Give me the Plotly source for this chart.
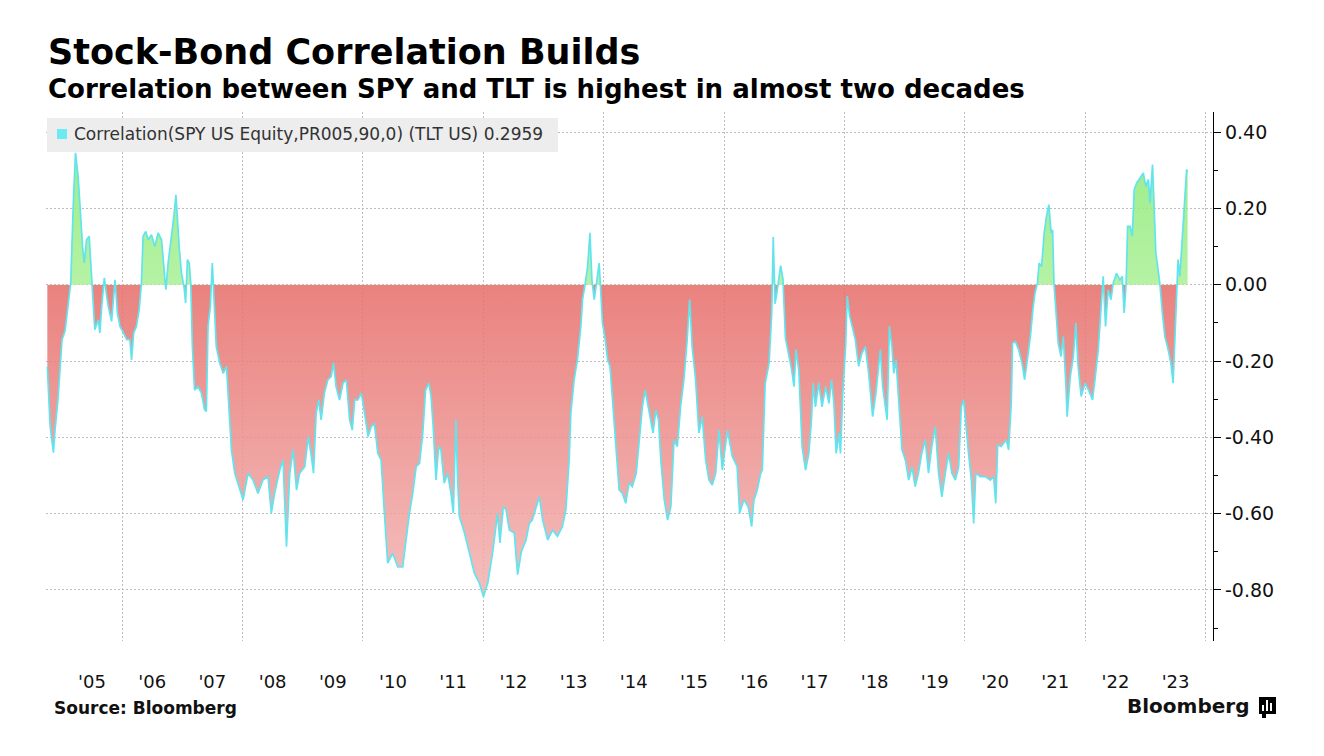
import plotly.graph_objects as go

# ---------------- data ----------------
dates = [
    "2004-10-04", "2004-10-21", "2004-11-10", "2004-11-20", "2004-12-08", "2005-01-01", "2005-01-20",
    "2005-02-09", "2005-02-23", "2005-03-10", "2005-03-24", "2005-04-09", "2005-04-19", "2005-05-06",
    "2005-05-16", "2005-05-30", "2005-06-15", "2005-06-30", "2005-07-09", "2005-07-19", "2005-08-09",
    "2005-08-19", "2005-08-30", "2005-09-15", "2005-09-29", "2005-10-09", "2005-10-29", "2005-11-09",
    "2005-11-19", "2005-12-03", "2005-12-19", "2006-01-09", "2006-01-29", "2006-02-17", "2006-02-27",
    "2006-03-12", "2006-03-29", "2006-04-14", "2006-04-28", "2006-05-08", "2006-05-24", "2006-06-08",
    "2006-06-28", "2006-07-18", "2006-08-07", "2006-08-28", "2006-09-11", "2006-09-23", "2006-10-07",
    "2006-10-28", "2006-11-11", "2006-11-23", "2006-12-01", "2006-12-13", "2006-12-27", "2007-01-11",
    "2007-01-21", "2007-02-01", "2007-02-12", "2007-02-21", "2007-03-03", "2007-03-16", "2007-04-06",
    "2007-04-27", "2007-05-16", "2007-05-27", "2007-06-06", "2007-06-20", "2007-07-02", "2007-07-10",
    "2007-07-26", "2007-08-16", "2007-09-06", "2007-09-26", "2007-10-11", "2007-10-26", "2007-11-15",
    "2007-12-15", "2008-01-05", "2008-02-04", "2008-03-05", "2008-04-04", "2008-05-04", "2008-06-04",
    "2008-06-24", "2008-07-14", "2008-08-03", "2008-08-14", "2008-09-03", "2008-09-24", "2008-10-14",
    "2008-11-03", "2008-11-24", "2008-12-13", "2009-01-13", "2009-02-03", "2009-02-22", "2009-03-07",
    "2009-03-23", "2009-04-08", "2009-04-22", "2009-05-12", "2009-06-02", "2009-06-22", "2009-07-06",
    "2009-07-22", "2009-08-12", "2009-09-02", "2009-09-22", "2009-10-12", "2009-10-28", "2009-11-12",
    "2009-12-01", "2009-12-22", "2010-01-11", "2010-02-01", "2010-02-20", "2010-03-11", "2010-04-01",
    "2010-04-21", "2010-05-11", "2010-05-31", "2010-06-30", "2010-07-31", "2010-08-30", "2010-09-20",
    "2010-10-10", "2010-10-30", "2010-11-20", "2010-12-10", "2010-12-30", "2011-01-16", "2011-02-05",
    "2011-02-18", "2011-03-03", "2011-03-20", "2011-04-05", "2011-04-19", "2011-05-09", "2011-05-29",
    "2011-06-19", "2011-07-03", "2011-07-19", "2011-07-29", "2011-08-09", "2011-09-09", "2011-10-08",
    "2011-11-08", "2011-12-08", "2012-01-02", "2012-01-28", "2012-02-26", "2012-03-28", "2012-04-11",
    "2012-05-01", "2012-05-18", "2012-06-07", "2012-07-07", "2012-07-27", "2012-08-19", "2012-09-16",
    "2012-10-06", "2012-10-24", "2012-12-06", "2012-12-26", "2013-01-26", "2013-02-24", "2013-03-26",
    "2013-04-25", "2013-05-16", "2013-06-05", "2013-06-15", "2013-07-05", "2013-07-25", "2013-08-15",
    "2013-08-25", "2013-09-11", "2013-09-25", "2013-10-09", "2013-10-21", "2013-11-04", "2013-11-18",
    "2013-12-04", "2013-12-14", "2013-12-24", "2014-01-10", "2014-01-24", "2014-02-08", "2014-02-22",
    "2014-03-14", "2014-04-04", "2014-04-24", "2014-05-14", "2014-06-03", "2014-06-23", "2014-07-17",
    "2014-08-03", "2014-08-23", "2014-09-09", "2014-09-23", "2014-10-13", "2014-10-27", "2014-11-13",
    "2014-11-29", "2014-12-13", "2015-01-03", "2015-01-23", "2015-02-12", "2015-03-03", "2015-03-23",
    "2015-04-12", "2015-05-02", "2015-05-22", "2015-06-06", "2015-06-21", "2015-07-12", "2015-08-01",
    "2015-08-21", "2015-09-11", "2015-10-01", "2015-10-21", "2015-11-11", "2015-12-01", "2015-12-21",
    "2016-01-21", "2016-02-20", "2016-03-20", "2016-04-04", "2016-04-30", "2016-05-26", "2016-06-16",
    "2016-06-30", "2016-07-20", "2016-08-10", "2016-08-20", "2016-09-06", "2016-09-30", "2016-10-16",
    "2016-10-25", "2016-11-05", "2016-11-19", "2016-12-09", "2016-12-23", "2017-01-07", "2017-01-25",
    "2017-02-14", "2017-02-28", "2017-03-12", "2017-03-29", "2017-04-18", "2017-05-09", "2017-05-29",
    "2017-06-14", "2017-06-24", "2017-07-08", "2017-07-28", "2017-08-17", "2017-09-08", "2017-09-28",
    "2017-10-14", "2017-10-28", "2017-11-11", "2017-11-28", "2017-12-07", "2017-12-21", "2018-01-07",
    "2018-01-17", "2018-02-01", "2018-02-16", "2018-03-07", "2018-03-27", "2018-04-16", "2018-05-07",
    "2018-05-27", "2018-06-20", "2018-07-10", "2018-08-06", "2018-08-20", "2018-09-16", "2018-09-30",
    "2018-10-15", "2018-10-26", "2018-11-09", "2018-11-26", "2018-12-15", "2019-01-05", "2019-01-25",
    "2019-02-14", "2019-03-05", "2019-03-25", "2019-04-14", "2019-05-05", "2019-05-25", "2019-06-14",
    "2019-07-05", "2019-07-25", "2019-08-14", "2019-09-04", "2019-09-24", "2019-10-14", "2019-11-04",
    "2019-11-24", "2019-12-10", "2019-12-24", "2020-01-07", "2020-01-23", "2020-02-09", "2020-02-23",
    "2020-03-07", "2020-04-03", "2020-05-03", "2020-06-03", "2020-06-23", "2020-07-06", "2020-07-18",
    "2020-08-08", "2020-09-08", "2020-09-22", "2020-10-08", "2020-10-16", "2020-11-02", "2020-11-22",
    "2020-12-12", "2020-12-28", "2021-01-11", "2021-02-01", "2021-02-16", "2021-03-01", "2021-03-16",
    "2021-03-26", "2021-04-10", "2021-04-26", "2021-05-10", "2021-05-24", "2021-06-07", "2021-06-16",
    "2021-06-24", "2021-07-07", "2021-07-20", "2021-08-06", "2021-08-20", "2021-09-04", "2021-09-12",
    "2021-10-01", "2021-10-20", "2021-11-04", "2021-11-16", "2021-12-06", "2021-12-30", "2022-01-20",
    "2022-02-13", "2022-02-28", "2022-03-20", "2022-04-05", "2022-04-19", "2022-05-03", "2022-05-19",
    "2022-06-05", "2022-06-19", "2022-07-09", "2022-07-29", "2022-08-12", "2022-08-24", "2022-09-05",
    "2022-09-14", "2022-09-29", "2022-10-12", "2022-10-24", "2022-11-08", "2022-11-29", "2022-12-18",
    "2023-01-02", "2023-01-18", "2023-01-28", "2023-02-12", "2023-02-22", "2023-03-04", "2023-03-18",
    "2023-03-28", "2023-04-11", "2023-04-28", "2023-05-18", "2023-06-03", "2023-06-17", "2023-06-28",
    "2023-07-07", "2023-07-17", "2023-07-28", "2023-08-11", "2023-08-23", "2023-09-07", "2023-09-13",
]

correlation = [
    -0.214, -0.37, -0.44, -0.38, -0.30, -0.145, -0.12,
    -0.04, 0.005, 0.205, 0.346, 0.284, 0.205, 0.10,
    0.057, 0.118, 0.127, 0.03, -0.04, -0.118, -0.092,
    -0.126, -0.057, 0.018, -0.03, -0.057, -0.096, -0.03,
    0.013, -0.074, -0.109, -0.126, -0.144, -0.144, -0.197,
    -0.126, -0.109, -0.066, 0.005, 0.127, 0.14, 0.118,
    0.131, 0.10, 0.136, 0.118, 0.057, -0.013, 0.057,
    0.127, 0.18, 0.236, 0.17, 0.10, 0.03, -0.004,
    -0.048, 0.066, 0.057, 0.005, -0.162, -0.276, -0.267,
    -0.284, -0.328, -0.332, -0.109, -0.057, 0.057, -0.013,
    -0.162, -0.205, -0.232, -0.214, -0.32, -0.433, -0.494,
    -0.538, -0.564, -0.494, -0.512, -0.547, -0.512, -0.503,
    -0.599, -0.547, -0.512, -0.486, -0.46, -0.687, -0.494,
    -0.433, -0.538, -0.494, -0.477, -0.398, -0.45, -0.494,
    -0.337, -0.302, -0.354, -0.284, -0.249, -0.241, -0.205,
    -0.267, -0.302, -0.258, -0.249, -0.354, -0.381, -0.302,
    -0.302, -0.284, -0.337, -0.398, -0.372, -0.363, -0.442,
    -0.46, -0.599, -0.73, -0.704, -0.74, -0.74, -0.669,
    -0.599, -0.547, -0.477, -0.468, -0.389, -0.276, -0.258,
    -0.293, -0.372, -0.512, -0.424, -0.433, -0.52, -0.494,
    -0.547, -0.599, -0.354, -0.512, -0.608, -0.651, -0.704,
    -0.756, -0.782, -0.818, -0.782, -0.704, -0.599, -0.677,
    -0.582, -0.59, -0.643, -0.651, -0.76, -0.70, -0.67,
    -0.626, -0.617, -0.556, -0.617, -0.669, -0.643, -0.66,
    -0.634, -0.59, -0.46, -0.337, -0.249, -0.197, -0.109,
    -0.039, 0.005, 0.048, 0.136, 0.013, -0.039, 0.005,
    0.057, -0.022, -0.10, -0.144, -0.197, -0.214, -0.302,
    -0.407, -0.538, -0.547, -0.573, -0.52, -0.529, -0.494,
    -0.407, -0.32, -0.276, -0.311, -0.354, -0.389, -0.328,
    -0.354, -0.46, -0.564, -0.617, -0.582, -0.407, -0.424,
    -0.32, -0.249, -0.144, -0.039, -0.162, -0.249, -0.389,
    -0.346, -0.46, -0.512, -0.525, -0.494, -0.381, -0.486,
    -0.381, -0.45, -0.477, -0.599, -0.564, -0.582, -0.634,
    -0.564, -0.538, -0.494, -0.486, -0.26, -0.205, -0.074,
    0.125, -0.05, -0.013, 0.05, 0.015, -0.14, -0.179,
    -0.223, -0.267, -0.17, -0.223, -0.424, -0.486, -0.442,
    -0.354, -0.258, -0.32, -0.258, -0.32, -0.267, -0.311,
    -0.249, -0.311, -0.442, -0.389, -0.442, -0.284, -0.162,
    -0.03, -0.083, -0.109, -0.144, -0.214, -0.179, -0.162,
    -0.232, -0.346, -0.284, -0.17, -0.267, -0.354, -0.109,
    -0.162, -0.232, -0.197, -0.311, -0.433, -0.46, -0.512,
    -0.477, -0.529, -0.494, -0.442, -0.407, -0.494, -0.424,
    -0.372, -0.494, -0.556, -0.494, -0.442, -0.494, -0.512,
    -0.477, -0.32, -0.302, -0.372, -0.442, -0.512, -0.626,
    -0.494, -0.503, -0.503, -0.512, -0.503, -0.573, -0.42,
    -0.424, -0.407, -0.433, -0.311, -0.153, -0.149, -0.17,
    -0.205, -0.249, -0.205, -0.136, -0.066, -0.022, 0.005,
    0.057, 0.048, 0.136, 0.18, 0.21, 0.136, 0.144,
    0.005, -0.083, -0.153, -0.188, -0.136, -0.258, -0.346,
    -0.241, -0.188, -0.10, -0.205, -0.293, -0.258, -0.276,
    -0.302, -0.249, -0.17, -0.066, 0.022, -0.109, -0.013,
    -0.039, 0.005, 0.03, 0.013, 0.022, -0.074, 0.005,
    0.153, 0.153, 0.127, 0.249, 0.267, 0.28, 0.293,
    0.258, 0.276, 0.214, 0.315, 0.205, 0.083, 0.039,
    0.005, -0.066, -0.136, -0.17, -0.205, -0.258, -0.136,
    0.005, 0.066, 0.022, 0.127, 0.223, 0.302, 0.2959,
]

year_labels = ["'05", "'06", "'07", "'08", "'09", "'10", "'11", "'12", "'13", "'14",
               "'15", "'16", "'17", "'18", "'19", "'20", "'21", "'22", "'23"]
label_dates = ["2005-07-02", "2006-07-02", "2007-07-02", "2008-07-02", "2009-07-02",
               "2010-07-02", "2011-07-02", "2012-07-02", "2013-07-02", "2014-07-02",
               "2015-07-02", "2016-07-02", "2017-07-02", "2018-07-02", "2019-07-02",
               "2020-07-02", "2021-07-02", "2022-07-02", "2023-07-02"]
grid_dates = ["2006-01-01", "2008-01-01", "2010-01-01", "2012-01-01", "2014-01-01",
              "2016-01-01", "2018-01-01", "2020-01-01", "2022-01-01", "2024-01-01"]
y_ticks = [0.4, 0.2, 0.0, -0.2, -0.4, -0.6, -0.8]
y_minor = [0.3, 0.1, -0.1, -0.3, -0.5, -0.7, -0.9]
y_ticktext = [f"{v:.2f}" for v in y_ticks]

legend_text = "Correlation(SPY US Equity,PR005,90,0) (TLT US) 0.2959"

# ---------------- styling ----------------
FONT = "DejaVu Sans"
CYAN = "#62e4ee"
GRID = "#bdbdbd"
OFF = 8  # default page margin of the html body
W, H = 1308, 740
ML, MR, MT, MB = 38, 103, 104, 107
PW, PH = W - ML - MR, H - MT - MB


def px(p):
    """page pixel x -> paper coordinate"""
    return (p - OFF - ML) / PW


def py(p):
    """page pixel y -> paper coordinate"""
    return (H - MB - (p - OFF)) / PH


g_start, g_stop = -0.85, 0.35
zf = (0 - g_start) / (g_stop - g_start)
fill_scale = [
    [0.0, "rgba(243,183,182,0.86)"],
    [zf, "rgba(230,110,106,0.86)"],
    [zf, "rgba(170,240,150,0.86)"],
    [1.0, "rgba(140,234,118,0.86)"],
]

fig = go.Figure()
fig.add_trace(go.Scatter(
    x=dates, y=correlation, mode="lines",
    line=dict(color=CYAN, width=1.7),
    fill="tozeroy",
    fillgradient=dict(type="vertical", colorscale=fill_scale, start=g_start, stop=g_stop),
    hoverinfo="skip", showlegend=False,
))

fig.update_layout(
    width=W, height=H,
    margin=dict(l=ML, r=MR, t=MT, b=MB),
    paper_bgcolor="white", plot_bgcolor="white",
    showlegend=False,
    font=dict(family=FONT, color="#111111"),
    xaxis=dict(
        type="date", range=["2004-09-26", "2024-02-14"],
        tickmode="array", tickvals=label_dates, ticktext=year_labels,
        showgrid=False, zeroline=False, showline=False, ticks="",
        tickfont=dict(family=FONT, size=18, color="#111111"),
        ticklabelstandoff=28,
        minor=dict(tickmode="array", tickvals=grid_dates, showgrid=True,
                   gridcolor=GRID, griddash="2px,2px", gridwidth=1, ticks=""),
        fixedrange=True,
    ),
    yaxis=dict(
        side="right", range=[-0.934, 0.453],
        tickmode="array", tickvals=y_ticks, ticktext=y_ticktext,
        showgrid=True, gridcolor=GRID, griddash="2px,2px", gridwidth=1,
        zeroline=False, showline=True, linecolor="black", linewidth=1.3,
        ticks="outside", ticklen=7, tickwidth=1, tickcolor="black",
        tickfont=dict(family=FONT, size=19, color="#111111"),
        minor=dict(tickmode="array", tickvals=y_minor, ticks="outside",
                   ticklen=4, tickwidth=1, tickcolor="black", showgrid=False),
        fixedrange=True,
    ),
)

shapes = [
    # legend box
    dict(type="rect", xref="paper", yref="paper", x0=px(47), x1=px(558), y0=py(152), y1=py(118),
         fillcolor="#ededed", line=dict(width=0), layer="above"),
    dict(type="rect", xref="paper", yref="paper", x0=px(57), x1=px(67), y0=py(139), y1=py(129),
         fillcolor="#6ceaf2", line=dict(width=0), layer="above"),
    # Bloomberg icon
    dict(type="rect", xref="paper", yref="paper", x0=px(1259), x1=px(1276), y0=py(714), y1=py(697),
         fillcolor="black", line=dict(width=0), layer="above"),
    dict(type="rect", xref="paper", yref="paper", x0=px(1262), x1=px(1266), y0=py(718), y1=py(713),
         fillcolor="black", line=dict(width=0), layer="above"),
    dict(type="rect", xref="paper", yref="paper", x0=px(1262), x1=px(1264), y0=py(711), y1=py(705),
         fillcolor="white", line=dict(width=0), layer="above"),
    dict(type="rect", xref="paper", yref="paper", x0=px(1266), x1=px(1268), y0=py(711), y1=py(700),
         fillcolor="white", line=dict(width=0), layer="above"),
    dict(type="rect", xref="paper", yref="paper", x0=px(1270), x1=px(1272), y0=py(711), y1=py(703),
         fillcolor="white", line=dict(width=0), layer="above"),
]
fig.update_layout(shapes=shapes)

annotations = [
    dict(text="<b>Stock-Bond Correlation Builds</b>", x=px(46), y=py(52),
         font=dict(family=FONT, size=35, color="#000000")),
    dict(text="<b>Correlation between SPY and TLT is highest in almost two decades</b>", x=px(46), y=py(89),
         font=dict(family=FONT, size=26, color="#000000")),
    dict(text=legend_text, x=px(72), y=py(134),
         font=dict(family=FONT, size=17, color="#333333")),
    dict(text="<b>Source: Bloomberg</b>", x=px(52), y=py(708),
         font=dict(family=FONT, size=17, color="#111111")),
]
for a in annotations:
    a.update(xref="paper", yref="paper", xanchor="left", yanchor="middle", showarrow=False)
annotations.append(dict(text="<b>Bloomberg</b>", x=px(1251), y=py(706), xref="paper", yref="paper",
                        xanchor="right", yanchor="middle", showarrow=False,
                        font=dict(family=FONT, size=20, color="#111111")))
fig.update_layout(annotations=annotations)

fig.write_html("out.html")
